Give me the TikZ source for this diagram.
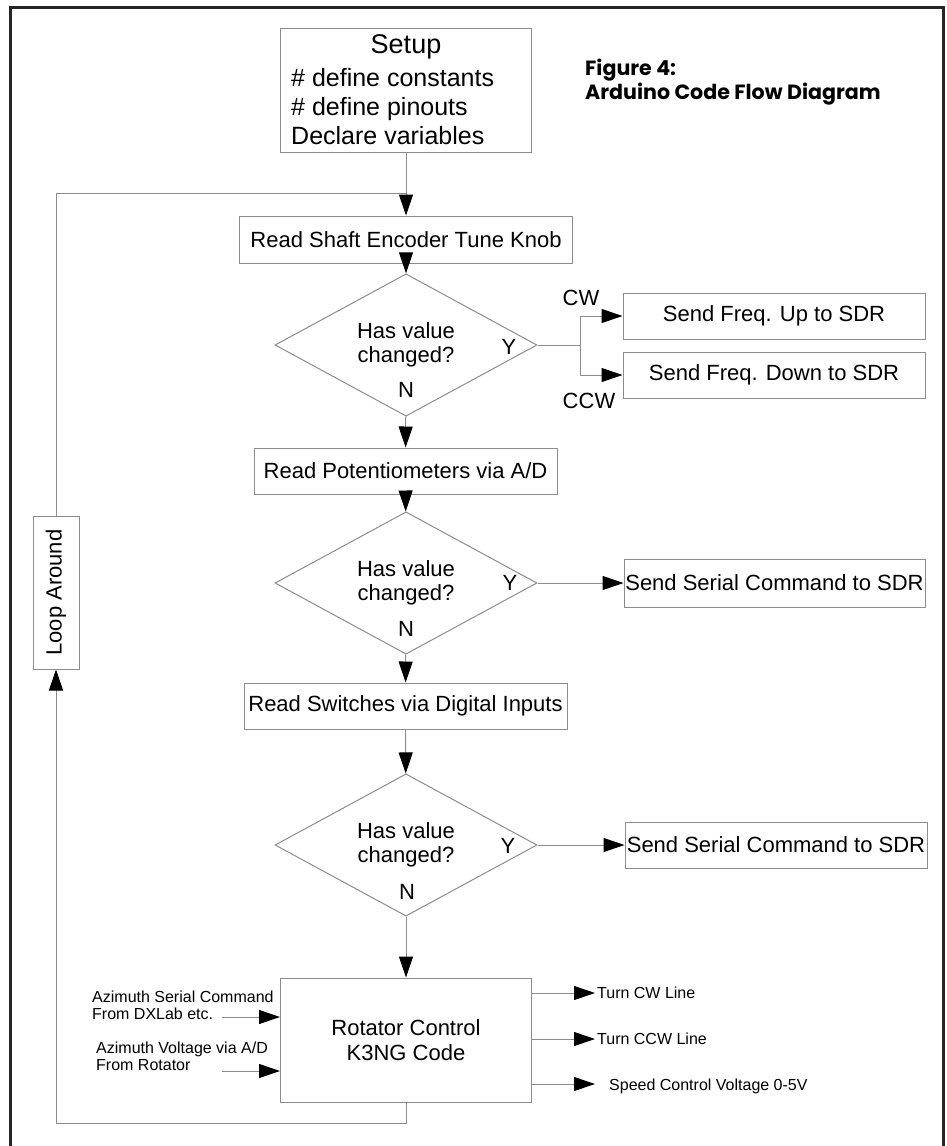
\documentclass[tikz,border=0pt]{standalone}
\usepackage{fontspec}
\usepackage{graphicx}
\setmainfont{Liberation Sans}
\newfontfamily\figfont{Poppins}
\usetikzlibrary{arrows.meta,shapes.geometric}

\begin{document}
\begin{tikzpicture}[x=1pt,y=-1pt,
  box/.style={draw=black!45, line width=1pt, inner sep=0pt, align=center, font=\fontsize{22}{25}\selectfont},
  decision/.style={diamond, draw=black!45, line width=1pt, inner sep=0pt, minimum width=262pt, minimum height=118pt, align=center, font=\fontsize{22}{24}\selectfont},
  lbl/.style={inner sep=0pt, font=\fontsize{22}{24}\selectfont},
  small/.style={inner sep=0pt, align=left, font=\fontsize{16}{17}\selectfont},
  line/.style={draw=black!45, line width=1pt},
  flow/.style={line, -{Triangle[length=21pt,width=14pt,black]}}
]

\useasboundingbox (0,0) rectangle (947,1146);

\draw[line width=3pt, black!85] (10.5,1146) -- (10.5,7) -- (943,7) -- (943,1146);

\node[anchor=west, inner sep=0pt, align=left, font=\figfont\bfseries\fontsize{20.6}{19.5}\selectfont] (title) at (585,82) {Figure 4:\\Arduino Code Flow Diagram};

\node[box, minimum width=251pt, minimum height=124pt] (setup) at (406,90) {};
\node[lbl, font=\fontsize{27}{29}\selectfont] (setuphead) at (406,47) {Setup};
\node[anchor=west, inner sep=0pt, align=left, font=\fontsize{25}{29}\selectfont] (setuplist) at (291,107) {\# define constants\\\# define pinouts\\Declare variables};

\node[box, minimum width=333pt, minimum height=47pt] (shaft) at (406,239.5) {Read Shaft Encoder Tune Knob};
\node[decision] (dec1) at (406,345) {Has value\\changed?};
\node[lbl] (y1) at (509,347) {Y};
\node[lbl] (n1) at (406,390) {N};

\node[box, minimum width=302pt, minimum height=46pt] (up) at (774,316) {Send Freq. Up to SDR};
\node[box, minimum width=302pt, minimum height=46pt] (down) at (774,375) {Send Freq. Down to SDR};
\node[lbl] (cw) at (581,298) {CW};
\node[lbl] (ccw) at (589,401) {CCW};
\coordinate (split) at (580,345);

\node[box, minimum width=303pt, minimum height=46pt] (pots) at (405.5,471) {Read Potentiometers via A/D};
\node[decision] (dec2) at (406,583) {Has value\\changed?};
\node[lbl] (y2) at (510,583) {Y};
\node[lbl] (n2) at (406,629) {N};
\node[box, minimum width=301pt, minimum height=48pt] (ser1) at (774.5,583) {Send Serial Command to SDR};

\node[box, minimum width=323pt, minimum height=46pt] (sw) at (405.5,706) {Read Switches via Digital Inputs};
\node[decision] (dec3) at (406,845) {Has value\\changed?};
\node[lbl] (y3) at (508,846) {Y};
\node[lbl] (n3) at (407,892) {N};
\node[box, minimum width=302pt, minimum height=46pt] (ser2) at (776,845) {Send Serial Command to SDR};

\node[box, minimum width=251pt, minimum height=124pt] (rot) at (406,1040) {Rotator Control\\K3NG Code};

\node[small, anchor=west] (azser) at (92,1005.5) {Azimuth Serial Command\\From DXLab etc.};
\node[small, anchor=west] (azvolt) at (96,1056) {Azimuth Voltage via A/D\\From Rotator};
\coordinate (in1) at (222,1017);
\coordinate (in2) at (222,1071);

\node[small, anchor=west] (turncw) at (597,993) {Turn CW Line};
\node[small, anchor=west] (turnccw) at (597,1039) {Turn CCW Line};
\node[small, anchor=west] (speed) at (609,1086) {Speed Control Voltage 0-5V};
\coordinate (out3) at (595,1084);

\node[box, minimum width=46pt, minimum height=153pt] (loop) at (56,592.5) {\rotatebox{90}{Loop Around}};
\coordinate (join) at (406,193);

\draw[flow] (setup) -- (shaft);
\draw[flow] (shaft) -- (dec1);
\draw[line] (dec1.east) -- (split);
\draw[flow] (split) |- (up.west);
\draw[flow] (split) |- (down.west);
\draw[flow] (dec1) -- (pots);
\draw[flow] (pots) -- (dec2);
\draw[flow] (dec2.east) -- (ser1.west);
\draw[flow] (dec2) -- (sw);
\draw[flow] (sw) -- (dec3);
\draw[flow] (dec3.east) -- (ser2.west);
\draw[flow] (dec3) -- (rot);

\draw[flow] (in1) -- (in1 -| rot.west);
\draw[flow] (in2) -- (in2 -| rot.west);
\draw[flow] (turncw.west -| rot.east) -- ([xshift=-2pt]turncw.west);
\draw[flow] (turnccw.west -| rot.east) -- ([xshift=-2pt]turnccw.west);
\draw[flow] (out3 -| rot.east) -- (out3);

\draw[flow] (rot.south) -- ++(0,21) -| (loop.south);
\draw[line] (loop.north) |- (join);

\end{tikzpicture}
\end{document}
